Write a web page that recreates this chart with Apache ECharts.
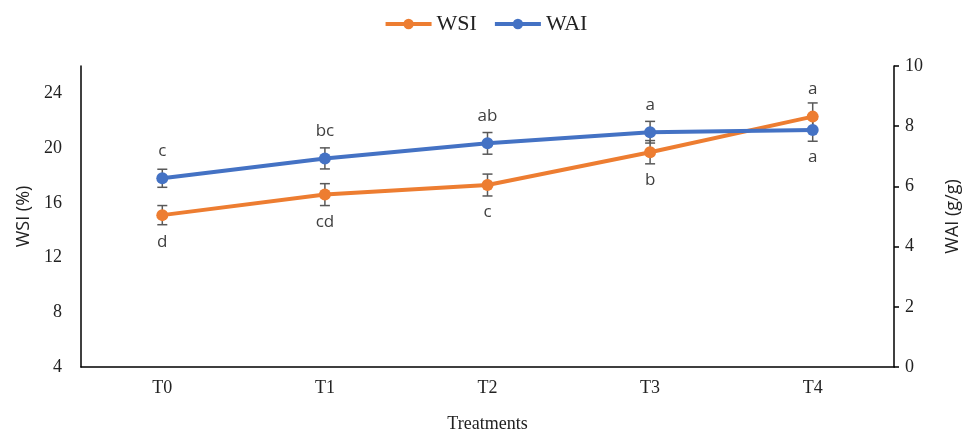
<!DOCTYPE html>
<html>
<head>
<meta charset="utf-8">
<script src="https://cdn.jsdelivr.net/npm/echarts@6/dist/echarts.min.js"></script>
<style>
  html, body { margin: 0; padding: 0; background: #fff; }
  #main { width: 971px; height: 433px; }
</style>
</head>
<body>
<div id="main"></div>
<script>
const categories = ['T0', 'T1', 'T2', 'T3', 'T4']

// WSI (%) - left axis
const wsiValues = [15.1, 16.6, 17.3, 19.7, 22.3]
const wsiErrors = [0.7, 0.8, 0.8, 0.85, 1.0]
const wsiLetters = ['d', 'cd', 'c', 'b', 'a']

// WAI (g/g) - right axis
const waiValues = [6.27, 6.93, 7.43, 7.8, 7.87]
const waiErrors = [0.3, 0.35, 0.36, 0.36, 0.37]
const waiLetters = ['c', 'bc', 'ab', 'a', 'a']

// which side of the point each letter sits
const wsiLetterSide = ['bottom', 'bottom', 'bottom', 'bottom', 'top']
const waiLetterSide = ['top', 'top', 'top', 'top', 'bottom']

const orange = '#ED7D31'
const blue = '#4472C4'
const serif = '"Liberation Serif", "Times New Roman", serif'
const sans = '"Open Sans", "Noto Sans", sans-serif'

const chart = echarts.init(document.getElementById('main'))

function lineData(values, letters, sides) {
    return values.map(function (v, i) {
        return {
            value: v,
            label: { show: true, formatter: letters[i], position: sides[i] }
        }
    })
}

function errData(values, errors) {
    return values.map(function (v, i) {
        return [i, v - errors[i], v + errors[i]]
    })
}

function renderErr(params, api) {
    const lo = api.coord([api.value(0), api.value(1)])
    const hi = api.coord([api.value(0), api.value(2)])
    const half = 5
    const style = { stroke: '#595959', lineWidth: 1.5 }
    return {
        type: 'group',
        children: [
            { type: 'line', shape: { x1: lo[0], y1: lo[1], x2: hi[0], y2: hi[1] }, style: style },
            { type: 'line', shape: { x1: lo[0] - half, y1: lo[1], x2: lo[0] + half, y2: lo[1] }, style: style },
            { type: 'line', shape: { x1: hi[0] - half, y1: hi[1], x2: hi[0] + half, y2: hi[1] }, style: style }
        ]
    }
}

const letterLabel = {
    distance: 13,
    fontFamily: sans,
    fontSize: 17,
    color: '#404040'
}

const option = {
    backgroundColor: '#fff',
    animation: false,
    legend: {
        top: 8,
        left: 'center',
        itemWidth: 46,
        itemHeight: 13,
        itemGap: 16,
        lineStyle: { width: 4 },
        textStyle: { fontFamily: serif, fontSize: 22, color: '#222' },
        data: ['WSI', 'WAI']
    },
    grid: { left: 81, right: 77, top: 66, bottom: 66, containLabel: false, outerBoundsMode: 'none' },
    xAxis: {
        type: 'category',
        data: categories,
        boundaryGap: true,
        name: 'Treatments',
        nameLocation: 'middle',
        nameGap: 48,
        nameTextStyle: { fontFamily: serif, fontSize: 18, color: '#222' },
        axisLine: { lineStyle: { color: '#000', width: 1.5 } },
        axisTick: { show: false },
        axisLabel: { fontFamily: serif, fontSize: 18, color: '#222', margin: 12 }
    },
    yAxis: [
        {
            type: 'value',
            min: 4,
            max: 26,
            interval: 4,
            name: 'WSI (%)',
            nameLocation: 'middle',
            nameRotate: 90,
            nameGap: 41,
            nameTextStyle: { fontFamily: sans, fontSize: 18, color: '#222' },
            axisLine: { show: true, lineStyle: { color: '#000', width: 1.5 } },
            axisTick: { show: false },
            splitLine: { show: false },
            axisLabel: { fontFamily: serif, fontSize: 18, color: '#222', margin: 19, showMaxLabel: false }
        },
        {
            type: 'value',
            min: 0,
            max: 10,
            interval: 2,
            position: 'right',
            name: 'WAI (g/g)',
            nameLocation: 'middle',
            nameRotate: 90,
            nameGap: 50,
            nameTextStyle: { fontFamily: sans, fontSize: 18, color: '#222' },
            axisLine: { show: true, lineStyle: { color: '#000', width: 1.5 } },
            axisTick: { show: true, length: 5, lineStyle: { color: '#000', width: 1.5 } },
            splitLine: { show: false },
            axisLabel: { fontFamily: serif, fontSize: 18, color: '#222', margin: 11 }
        }
    ],
    series: [
        {
            name: 'WSI err',
            type: 'custom',
            yAxisIndex: 0,
            z: 1,
            renderItem: renderErr,
            encode: { x: 0, y: [1, 2] },
            data: errData(wsiValues, wsiErrors)
        },
        {
            name: 'WAI err',
            type: 'custom',
            yAxisIndex: 1,
            z: 1,
            renderItem: renderErr,
            encode: { x: 0, y: [1, 2] },
            data: errData(waiValues, waiErrors)
        },
        {
            name: 'WSI',
            type: 'line',
            yAxisIndex: 0,
            z: 3,
            symbol: 'circle',
            symbolSize: 12,
            color: orange,
            lineStyle: { width: 4, color: orange },
            itemStyle: { color: orange },
            label: letterLabel,
            data: lineData(wsiValues, wsiLetters, wsiLetterSide)
        },
        {
            name: 'WAI',
            type: 'line',
            yAxisIndex: 1,
            z: 3,
            symbol: 'circle',
            symbolSize: 12,
            color: blue,
            lineStyle: { width: 4, color: blue },
            itemStyle: { color: blue },
            label: letterLabel,
            data: lineData(waiValues, waiLetters, waiLetterSide)
        }
    ]
}

chart.setOption(option)
</script>
</body>
</html>
